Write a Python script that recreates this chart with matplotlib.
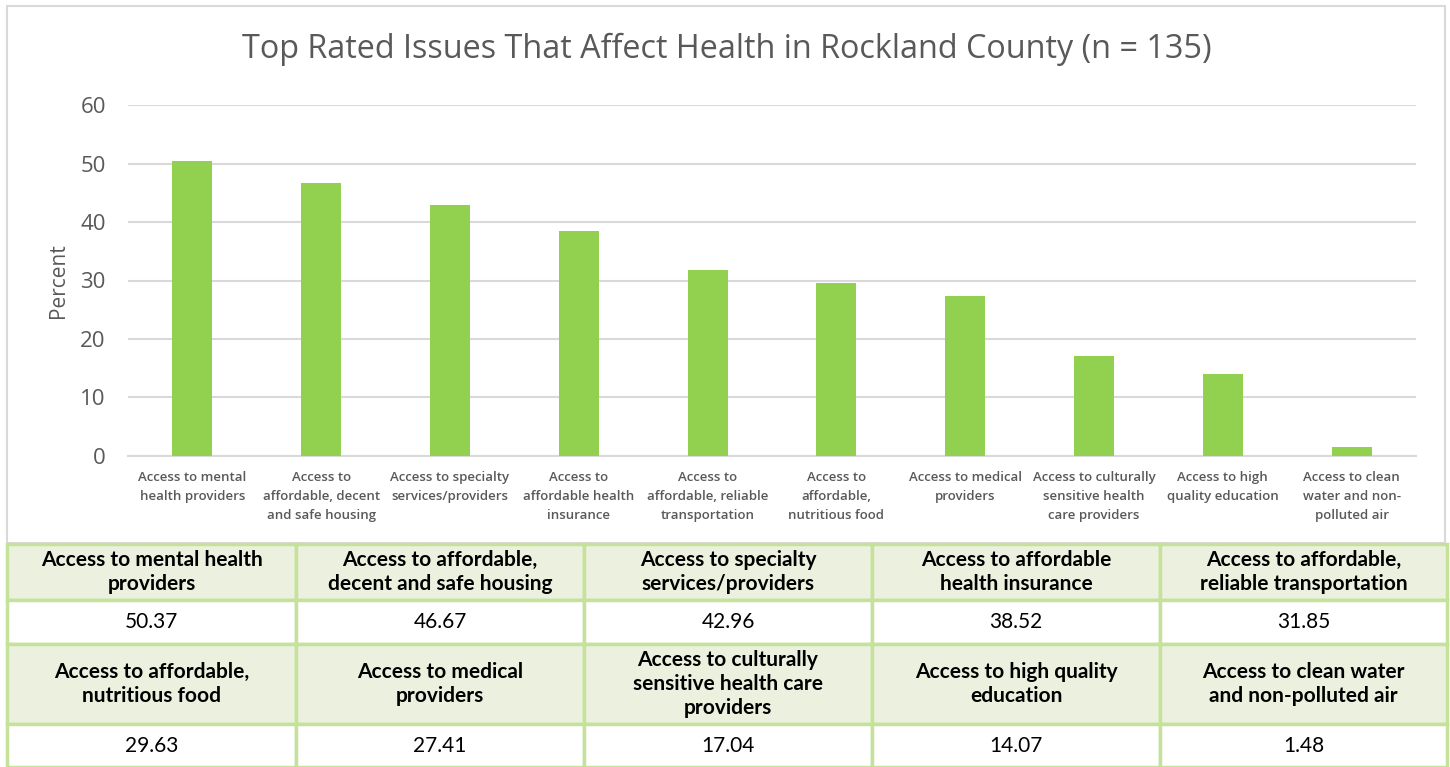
import matplotlib.pyplot as plt
from matplotlib.patches import Rectangle

categories = [
    "Access to mental\nhealth providers",
    "Access to\naffordable, decent\nand safe housing",
    "Access to specialty\nservices/providers",
    "Access to\naffordable health\ninsurance",
    "Access to\naffordable, reliable\ntransportation",
    "Access to\naffordable,\nnutritious food",
    "Access to medical\nproviders",
    "Access to culturally\nsensitive health\ncare providers",
    "Access to high\nquality education",
    "Access to clean\nwater and non-\npolluted air",
]
values = [50.37, 46.67, 42.96, 38.52, 31.85, 29.63, 27.41, 17.04, 14.07, 1.48]

table_labels = [
    "Access to mental health\nproviders",
    "Access to affordable,\ndecent and safe housing",
    "Access to specialty\nservices/providers",
    "Access to affordable\nhealth insurance",
    "Access to affordable,\nreliable transportation",
    "Access to affordable,\nnutritious food",
    "Access to medical\nproviders",
    "Access to culturally\nsensitive health care\nproviders",
    "Access to high quality\neducation",
    "Access to clean water\nand non-polluted air",
]
yticks = [0, 10, 20, 30, 40, 50, 60]

W, H = 1450, 767
fig = plt.figure(figsize=(W / 100, H / 100), dpi=100)

def box(x0, y0, x1, y1):
    # pixel coords (top-left origin) -> figure fraction rect
    return [x0 / W, 1 - y1 / H, (x1 - x0) / W, (y1 - y0) / H]

# chart frame
fig.patches.append(Rectangle((7 / W, 1 - 543 / H), 1438 / W, 537 / H,
                             transform=fig.transFigure, fill=False,
                             edgecolor="#d9d9d9", linewidth=1.5))

grey = "#595959"
ax = fig.add_axes(box(128, 105, 1416, 456))
x = range(len(values))
ax.bar(x, values, width=0.31, color="#92d050", zorder=3)
ax.set_xlim(-0.5, len(values) - 0.5)
ax.set_ylim(0, 60)
ax.set_yticks(yticks)
ax.set_yticklabels([str(t) for t in yticks], fontsize=16, color=grey, family="Open Sans")
ax.set_xticks(list(x))
ax.set_xticklabels(categories, fontsize=9.5, color=grey, family="Open Sans",
                   fontweight="semibold", linespacing=1.6)
ax.tick_params(axis="both", length=0)
ax.tick_params(axis="y", pad=16)
ax.tick_params(axis="x", pad=11)
ax.grid(axis="y", color="#d9d9d9", linewidth=1.5, zorder=0)
for s in ["top", "right", "left"]:
    ax.spines[s].set_visible(False)
ax.spines["bottom"].set_color("#d9d9d9")
ax.spines["bottom"].set_linewidth(1.5)
ax.set_ylabel("Percent", fontsize=15, color=grey, family="Open Sans", labelpad=8)

fig.text(727 / W, 1 - 49 / H, "Top Rated Issues That Affect Health in Rockland County (n = 135)",
         ha="center", va="center", fontsize=23.3, color=grey, family="Open Sans")

# table
cols = [7, 296, 584, 872, 1160, 1447]
rows = [544, 600, 644, 724, 767]
border = "#c4e29a"
head_bg = "#ebf1de"
for r in range(2):
    for c in range(5):
        i = r * 5 + c
        x0, x1 = cols[c], cols[c + 1]
        hy0, hy1 = rows[2 * r], rows[2 * r + 1]
        vy0, vy1 = rows[2 * r + 1], rows[2 * r + 2]
        fig.patches.append(Rectangle((x0 / W, 1 - hy1 / H), (x1 - x0) / W, (hy1 - hy0) / H,
                                     transform=fig.transFigure, facecolor=head_bg,
                                     edgecolor=border, linewidth=2.5))
        fig.patches.append(Rectangle((x0 / W, 1 - vy1 / H), (x1 - x0) / W, (vy1 - vy0) / H,
                                     transform=fig.transFigure, facecolor="white",
                                     edgecolor=border, linewidth=2.5))
        fig.text((x0 + x1) / 2 / W, 1 - (hy0 + hy1) / 2 / H, table_labels[i],
                 ha="center", va="center", fontsize=15, fontweight="bold",
                 family="Lato", color="black", linespacing=1.25)
        fig.text((x0 + x1) / 2 / W, 1 - (vy0 + vy1) / 2 / H, f"{values[i]:.2f}",
                 ha="center", va="center", fontsize=15, family="Lato", color="black")

fig.savefig("out.png", dpi=100)
